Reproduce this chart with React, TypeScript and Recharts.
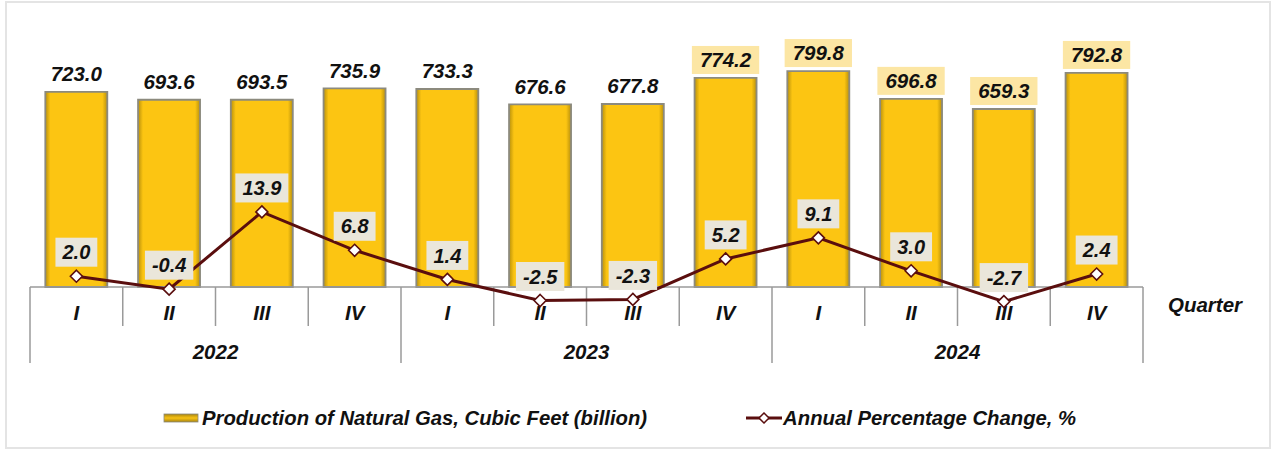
import React from 'react';
import { ComposedChart, Bar, Line, XAxis, YAxis, LabelList, ReferenceLine, Legend } from 'recharts';

const categories = ['2022 I', '2022 II', '2022 III', '2022 IV', '2023 I', '2023 II', '2023 III', '2023 IV', '2024 I', '2024 II', '2024 III', '2024 IV'];
const quarterLabels = ['I', 'II', 'III', 'IV', 'I', 'II', 'III', 'IV', 'I', 'II', 'III', 'IV'];
const yearLabels = ['2022', '2023', '2024'];
const production = [723.0, 693.6, 693.5, 735.9, 733.3, 676.6, 677.8, 774.2, 799.8, 696.8, 659.3, 792.8];
const pctChange = [2.0, -0.4, 13.9, 6.8, 1.4, -2.5, -2.3, 5.2, 9.1, 3.0, -2.7, 2.4];
const productionName = 'Production of Natural Gas, Cubic Feet (billion)';
const changeName = 'Annual Percentage Change, %';
const axisTitle = 'Quarter';

const data = categories.map((c, i) => ({ category: c, production: production[i], change: pctChange[i] }));

const FONT = 'Arial, "Liberation Sans", Helvetica, sans-serif';
const LINE_COLOR = '#5A0E0E';
const GRID_COLOR = '#9a9a9a';
const HIGHLIGHT_FROM = 7;

const charW = (s: string, size: number) => {
  let w = 0;
  for (const ch of s) w += ch === '.' ? size * 0.28 : ch === '-' ? size * 0.33 : size * 0.556;
  return w;
};

const BarLabel = (p: any) => {
  const vb = p.viewBox || {};
  const x = p.x ?? vb.x;
  const y = p.y ?? vb.y;
  const width = p.width ?? vb.width;
  const { value, index } = p;
  if (x == null || y == null) return null;
  const cx = x + width / 2;
  const cy = y - 18;
  const txt = Number(value).toFixed(1);
  const hl = index >= HIGHLIGHT_FROM;
  const tw = charW(txt, 20.5) + 16;
  return (
    <g>
      {hl && <rect x={cx - tw / 2} y={cy - 14} width={tw} height={28} fill="#FCE6A4" />}
      <text x={cx} y={cy} dy="0.36em" textAnchor="middle" fontFamily={FONT} fontWeight="bold" fontStyle="italic" fontSize={20.5} fill="#111">
        {txt}
      </text>
    </g>
  );
};

const LineLabel = (p: any) => {
  const vb = p.viewBox || {};
  const x = p.x ?? vb.x;
  const y = p.y ?? vb.y;
  const { value } = p;
  if (x == null || y == null) return null;
  const cy = y - 24;
  const txt = Number(value).toFixed(1);
  const tw = charW(txt, 20) + 14;
  return (
    <g>
      <rect x={x - tw / 2} y={cy - 14.5} width={tw} height={29} fill="#EAE6DA" />
      <text x={x} y={cy} dy="0.36em" textAnchor="middle" fontFamily={FONT} fontWeight="bold" fontStyle="italic" fontSize={20} fill="#111">
        {txt}
      </text>
    </g>
  );
};

const Diamond = (p: any) => {
  const { cx, cy, index } = p;
  if (cx == null || cy == null) return <g key={`d-${index}`} />;
  const r = 6;
  return (
    <path
      key={`d-${index}`}
      d={`M${cx},${cy - r}L${cx + r},${cy}L${cx},${cy + r}L${cx - r},${cy}Z`}
      fill="#ffffff"
      stroke={LINE_COLOR}
      strokeWidth={1.6}
    />
  );
};

const CategoryTable = (p: any) => {
  const { x1, y1, x2 } = p;
  if (x1 == null) return null;
  const n = quarterLabels.length;
  const w = (x2 - x1) / n;
  const qH = 39;
  const yH = 76;
  const perYear = n / yearLabels.length;
  const txt = { fontFamily: FONT, fontWeight: 'bold' as const, fontStyle: 'italic' as const, fontSize: 20.5, fill: '#111' };
  return (
    <g>
      <line x1={x1} x2={x2} y1={y1} y2={y1} stroke={GRID_COLOR} strokeWidth={1.5} />
      {quarterLabels.map((q, i) => (
        <g key={`q-${i}`}>
          {i % perYear !== 0 && <line x1={x1 + i * w} x2={x1 + i * w} y1={y1} y2={y1 + qH} stroke={GRID_COLOR} strokeWidth={1.5} />}
          <text x={x1 + (i + 0.5) * w} y={y1 + 26} dy="0.36em" textAnchor="middle" {...txt}>{q}</text>
        </g>
      ))}
      {Array.from({ length: yearLabels.length + 1 }).map((_, k) => (
        <line key={`yl-${k}`} x1={x1 + k * perYear * w} x2={x1 + k * perYear * w} y1={y1} y2={y1 + yH} stroke={GRID_COLOR} strokeWidth={1.5} />
      ))}
      {yearLabels.map((yl, k) => (
        <text key={`y-${k}`} x={x1 + (k + 0.5) * perYear * w} y={y1 + 65} dy="0.36em" textAnchor="middle" {...txt}>{yl}</text>
      ))}
      <text x={x2 + 25} y={y1 + 18} dy="0.36em" textAnchor="start" {...txt}>{axisTitle}</text>
    </g>
  );
};

const LegendContent = () => (
  <div
    style={{
      display: 'flex',
      alignItems: 'center',
      height: 28,
      paddingLeft: 163,
      fontFamily: FONT,
      fontWeight: 'bold',
      fontStyle: 'italic',
      fontSize: 20.3,
      color: '#111',
      whiteSpace: 'nowrap',
    }}
  >
    <svg width={36} height={12} style={{ marginRight: 3 }}>
      <defs>
        <linearGradient id="legBar" x1="0" y1="0" x2="0" y2="1">
          <stop offset="0%" stopColor="#A88510" />
          <stop offset="50%" stopColor="#F8C214" />
          <stop offset="100%" stopColor="#A88510" />
        </linearGradient>
      </defs>
      <rect x={1} y={2} width={34} height={8} fill="url(#legBar)" stroke="#8a8a80" strokeWidth={0.8} />
    </svg>
    <span>{productionName}</span>
    <span style={{ display: 'inline-block', width: 99 }} />
    <svg width={36} height={12} style={{ marginRight: 1 }}>
      <line x1={0} x2={36} y1={6} y2={6} stroke={LINE_COLOR} strokeWidth={3} />
      <path d="M18,1 L23,6 L18,11 L13,6 Z" fill="#fff" stroke={LINE_COLOR} strokeWidth={1.5} />
    </svg>
    <span>{changeName}</span>
  </div>
);

export default function App() {
  return (
    <div style={{ position: 'absolute', left: 0, top: 0, width: 1273, height: 450, background: '#fff' }}>
      <div style={{ position: 'absolute', left: 5, top: 1, width: 1266, height: 448, border: '2px solid #e4e4e4', boxSizing: 'border-box' }} />
      <ComposedChart
        width={1273}
        height={450}
        data={data}
        margin={{ top: 17, right: 130, left: 30, bottom: 27 }}
        barCategoryGap="16.5%"
        style={{ position: 'absolute', left: 0, top: 0 }}
      >
        <defs>
          <linearGradient id="barFill" x1="0" y1="0" x2="1" y2="0">
            <stop offset="0%" stopColor="#B8900C" />
            <stop offset="8%" stopColor="#FCC512" />
            <stop offset="92%" stopColor="#FCC512" />
            <stop offset="100%" stopColor="#B8900C" />
          </linearGradient>
        </defs>
        <XAxis dataKey="category" hide />
        <YAxis yAxisId="left" domain={[-400, 1000]} hide />
        <YAxis yAxisId="right" orientation="right" domain={[-20, 50]} hide />
        <ReferenceLine yAxisId="left" y={0} shape={CategoryTable} />
        <Bar yAxisId="left" dataKey="production" name={productionName} fill="url(#barFill)" stroke="#8C8A7E" strokeWidth={1.8} isAnimationActive={false}>
          <LabelList dataKey="production" content={BarLabel} />
        </Bar>
        <Line
          yAxisId="right"
          dataKey="change"
          name={changeName}
          stroke={LINE_COLOR}
          strokeWidth={3}
          dot={Diamond}
          activeDot={false}
          isAnimationActive={false}
        >
          <LabelList dataKey="change" content={LineLabel} />
        </Line>
        <Legend content={LegendContent} wrapperStyle={{ left: 0, top: 404, width: 1273, bottom: 'auto' }} />
      </ComposedChart>
    </div>
  );
}
